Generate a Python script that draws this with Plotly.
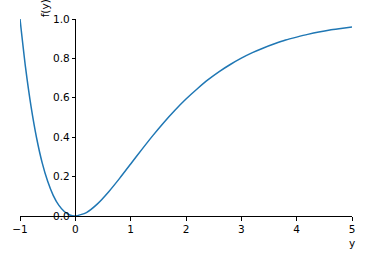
import plotly.graph_objects as go

y_vals = [-1.0, -0.9, -0.8, -0.7, -0.6, -0.5, -0.4, -0.3, -0.2, -0.1, 0.0,
          0.2, 0.4, 0.6, 0.8, 1.0, 1.2, 1.4, 1.6, 1.8, 2.0, 2.2, 2.4, 2.6, 2.8,
          3.0, 3.2, 3.4, 3.6, 3.8, 4.0, 4.2, 4.4, 4.6, 4.8, 5.0]
f_vals = [1.0, 0.754, 0.555, 0.396, 0.271, 0.176, 0.105, 0.055, 0.023, 0.005, 0.0,
          0.0175, 0.0616, 0.122, 0.191, 0.264, 0.337, 0.408, 0.475, 0.537, 0.594,
          0.645, 0.692, 0.733, 0.769, 0.801, 0.829, 0.853, 0.874, 0.893, 0.908,
          0.922, 0.934, 0.944, 0.952, 0.960]
x_ticks = [-1, 0, 1, 2, 3, 4, 5]
x_tick_text = ["\u22121", "0", "1", "2", "3", "4", "5"]
y_ticks = [0.0, 0.2, 0.4, 0.6, 0.8, 1.0]
y_tick_text = ["0.0", "0.2", "0.4", "0.6", "0.8", "1.0"]

font = dict(family="DejaVu Sans", size=10.5, color="#000000")

fig = go.Figure()
fig.add_trace(go.Scatter(x=y_vals, y=f_vals, mode="lines",
                         line=dict(color="#1f77b4", width=1.5, shape="spline", smoothing=0.6),
                         hoverinfo="skip"))

fig.update_layout(
    width=376, height=257,
    margin=dict(l=18, r=24, t=19, b=41),
    paper_bgcolor="white", plot_bgcolor="white",
    showlegend=False,
    font=font,
    xaxis=dict(range=[-1, 5], tickvals=x_ticks, ticktext=x_tick_text,
               showgrid=False, zeroline=False, showline=True, linecolor="#000000",
               linewidth=1, ticks="outside", ticklen=3.5, tickwidth=1, tickcolor="#000000",
               tickfont=font, domain=[0, 1], anchor="y"),
    yaxis=dict(range=[0, 1], tickvals=y_ticks, ticktext=y_tick_text,
               showgrid=False, zeroline=False, showline=True, linecolor="#000000",
               linewidth=1, ticks="outside", ticklen=3.5, tickwidth=1, tickcolor="#000000",
               tickfont=font, anchor="free", position=1/6, side="left"),
    annotations=[
        dict(text="y", xref="paper", yref="paper", x=1.0, y=0, yshift=-19,
             showarrow=False, xanchor="center", yanchor="top", font=font),
        dict(text="f(y)", xref="paper", yref="paper", x=1/6, xshift=-30, y=1.0,
             showarrow=False, textangle=-90, xanchor="center", yanchor="bottom", font=font),
    ],
)

fig.write_html("out.html")
